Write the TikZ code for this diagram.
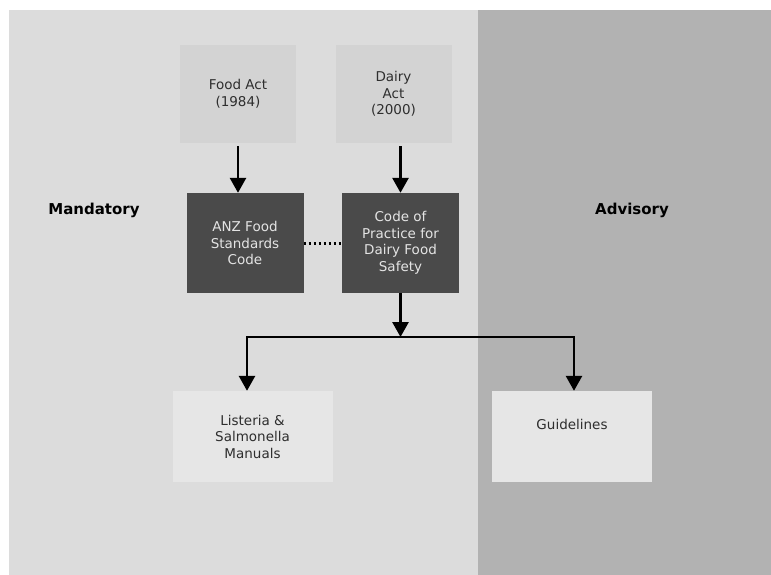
\documentclass[tikz,border=0pt]{standalone}
\usepackage{fontspec}
\setmainfont{DejaVu Sans}
\usepackage{tikz}
\usetikzlibrary{positioning,arrows.meta}

\definecolor{mandbg}{HTML}{DCDCDC}
\definecolor{advbg}{HTML}{B2B2B2}
\definecolor{actfill}{HTML}{D3D3D3}
\definecolor{codefill}{HTML}{4A4A4A}
\definecolor{docfill}{HTML}{E6E6E6}
\definecolor{boxtext}{HTML}{2E2E2E}
\definecolor{codetext}{HTML}{E4E4E4}

\begin{document}
\begin{tikzpicture}[x=1pt,y=-1pt,
        box/.style={inner sep=0pt, align=center, font=\fontsize{13.5}{16.5}\selectfont},
        actbox/.style={box, fill=actfill, text=boxtext, minimum width=116pt, minimum height=98pt},
        codebox/.style={box, fill=codefill, text=codetext, minimum width=117pt, minimum height=100pt},
        docbox/.style={box, fill=docfill, text=boxtext, minimum width=160pt, minimum height=91pt},
        zone/.style={font=\bfseries\fontsize{15}{18}\selectfont},
        arr/.style={line width=2.8pt, -{Triangle[width=16pt,length=15pt]}}]
        \useasboundingbox (0,0) rectangle (771,575);
        \fill[white] (0,0) rectangle (771,575);
        \fill[mandbg] (9,10) rectangle (478,575);
        \fill[advbg] (478,10) rectangle (771,575);

        \node[zone] (mandatory) at (94, 210) {Mandatory};
        \node[zone] (advisory) at (632, 210) {Advisory};

        \node[actbox] (foodact) at (238, 94) {Food Act\\(1984)};
        \node[actbox] (dairyact) at (393.5, 94) {Dairy\\Act\\(2000)};
        \node[codebox] (anzcode) at (245, 243) {ANZ Food\\Standards\\Code};
        \node[codebox] (dairycode) at (400.5, 243) {Code of\\Practice for\\Dairy Food\\Safety};
        \node[docbox] (manuals) at (252.5, 436.5) {Listeria \&\\Salmonella\\Manuals};
        \node[docbox, text depth=24pt] (guidelines) at (572, 436.5) {Guidelines};

        \coordinate (split) at (400.5, 337);
        \coordinate (leftdrop) at (247, 337);
        \coordinate (rightdrop) at (574, 337);

        \draw[arr] ([yshift=-3pt]foodact.south) -- (foodact.south |- anzcode.north);
        \draw[arr] ([yshift=-3pt]dairyact.south -| dairycode.north) -- (dairycode.north);
        \draw[line width=3pt, dash pattern=on 2.5pt off 2.5pt] (anzcode.east) -- (dairycode.west);
        \draw[arr] (dairycode.south) -- (split);
        \draw[arr] (split) -- (leftdrop) -- (leftdrop |- manuals.north);
        \draw[arr] (split) -- (rightdrop) -- (rightdrop |- guidelines.north);
    \end{tikzpicture}
\end{document}
